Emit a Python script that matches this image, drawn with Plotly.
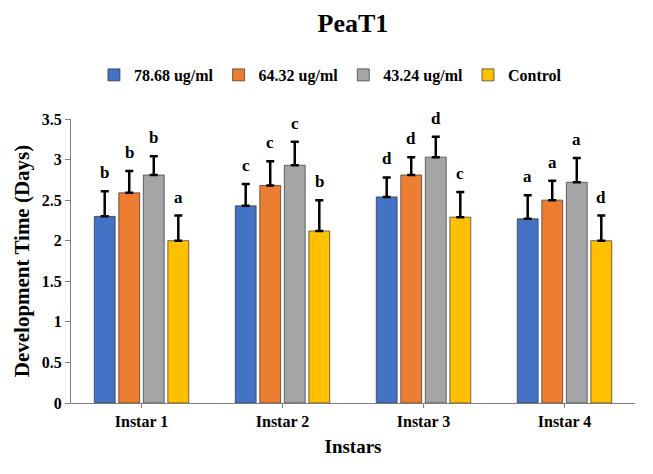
import plotly.graph_objects as go

# Development time per instar for each treatment concentration
instars = ["Instar 1", "Instar 2", "Instar 3", "Instar 4"]
series_names = ["78.68 ug/ml", "64.32 ug/ml", "43.24 ug/ml", "Control"]
means = [
    [2.30, 2.43, 2.54, 2.27],   # 78.68 ug/ml
    [2.59, 2.68, 2.81, 2.50],   # 64.32 ug/ml
    [2.81, 2.93, 3.03, 2.72],   # 43.24 ug/ml
    [2.00, 2.12, 2.29, 2.00],   # Control
]
errors = [
    [0.31, 0.27, 0.24, 0.29],
    [0.27, 0.30, 0.22, 0.24],
    [0.23, 0.29, 0.25, 0.30],
    [0.31, 0.38, 0.31, 0.31],
]
letters = [
    ["b", "c", "d", "a"],
    ["b", "c", "d", "a"],
    ["b", "c", "d", "a"],
    ["a", "b", "c", "d"],
]
colors = ["#4472C4", "#ED7D31", "#A5A5A5", "#FFC000"]
y_ticks = [0, 0.5, 1, 1.5, 2, 2.5, 3, 3.5]

FONT = "Liberation Serif, Times New Roman, serif"
slot = 0.174      # horizontal spacing between bars of one group (axis units)
bar_w = 0.148     # bar width (axis units)

fig = go.Figure()
n = len(series_names)
for j, name in enumerate(series_names):
    xs = [i + (j - (n - 1) / 2) * slot for i in range(len(instars))]
    fig.add_trace(go.Bar(
        x=xs, y=means[j], width=bar_w, name="<b>%s</b>" % name,
        marker=dict(color=colors[j], line=dict(color="rgba(50,50,50,0.7)", width=1)),
        error_y=dict(type="data", symmetric=False, array=errors[j],
                     arrayminus=[0] * len(instars), color="black",
                     thickness=2.5, width=4),
    ))
    # significance letters above each error bar
    for x, m, e, t in zip(xs, means[j], errors[j], letters[j]):
        fig.add_annotation(
            x=x, y=m + e, text="<b>%s</b>" % t, showarrow=False,
            xanchor="center", yanchor="bottom", yshift=7,
            font=dict(family=FONT, size=17, color="black"),
        )

fig.update_layout(
    width=653, height=474,
    margin=dict(l=71, r=18, t=119, b=71),
    paper_bgcolor="white", plot_bgcolor="white",
    font=dict(family=FONT, color="black"),
    title=dict(text="<b>PeaT1</b>", x=0.5, xanchor="center", xref="paper",
               y=0.952, yanchor="middle", font=dict(family=FONT, size=26, color="black")),
    legend=dict(orientation="h", x=0.46, xanchor="center", y=1.155, yanchor="middle",
                font=dict(family=FONT, size=16, color="black"),
                itemwidth=30, traceorder="normal", bgcolor="rgba(0,0,0,0)"),
    showlegend=True,
)
fig.update_xaxes(
    range=[-0.5, len(instars) - 0.5],
    tickvals=list(range(len(instars))),
    ticktext=["<b>%s</b>" % s for s in instars],
    tickfont=dict(family=FONT, size=16, color="black"),
    showline=True, linecolor="#7f7f7f", linewidth=1,
    ticks="outside", ticklen=4, tickcolor="#7f7f7f",
    showgrid=False, zeroline=False,
    title=dict(text="<b>Instars</b>", font=dict(family=FONT, size=19, color="black"), standoff=10),
)
fig.update_yaxes(
    range=[0, 3.5], tickvals=y_ticks,
    ticktext=["<b>%g</b>" % v for v in y_ticks],
    tickfont=dict(family=FONT, size=16, color="black"),
    showline=True, linecolor="#7f7f7f", linewidth=1,
    ticks="outside", ticklen=5, tickcolor="#7f7f7f",
    showgrid=False, zeroline=False,
    title=dict(text="<b>Development Time (Days)</b>", font=dict(family=FONT, size=21, color="black"), standoff=6),
)

fig.write_html("out.html")
